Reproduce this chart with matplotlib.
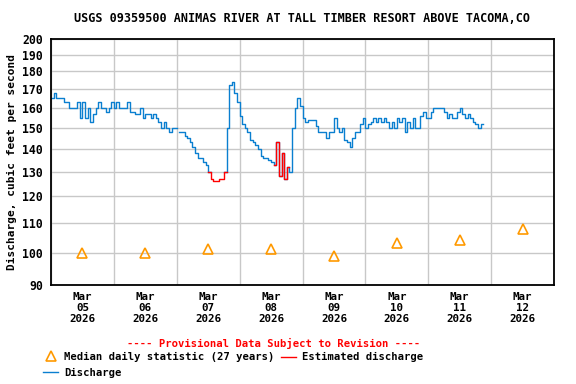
import numpy as np
import pandas as pd
import matplotlib
matplotlib.use('Agg')
import matplotlib.pyplot as plt
import matplotlib.dates as mdates
from matplotlib.lines import Line2D
from matplotlib.ticker import FixedLocator, FixedFormatter, NullLocator, NullFormatter

# ---- data (hourly readings, cfs) ----
START = '2026-03-05 00:00'
mar05 = [165, 168, 165, 165, 165, 163, 163, 160, 160, 160, 163, 155,
         163, 155, 160, 153, 157, 160, 163, 160, 160, 158, 160, 163]
mar06 = [160, 163, 160, 160, 160, 163, 158, 158, 157, 157, 160, 155,
         157, 157, 155, 157, 155, 153, 150, 153, 150, 148, 150, 150]
mar07 = [np.nan, 148, 148, 146, 145, 143, 141, 138, 136, 136, 134, 133,
         130, 127, 126, 126, 127, 127, 130, 150, 172, 174, 168, 163]
mar08 = [156, 152, 150, 148, 144, 143, 142, 140, 137, 136, 136, 135,
         134, 133, 143, 128, 138, 127, 132, 130, 150, 160, 165, 161]
mar09 = [155, 153, 154, 154, 154, 151, 148, 148, 148, 145, 148, 148,
         155, 150, 148, 150, 144, 143, 141, 145, 148, 148, 152, 155]
mar10 = [150, 152, 153, 155, 153, 155, 153, 155, 153, 150, 153, 150,
         155, 153, 155, 148, 153, 150, 155, 150, 150, 156, 158, 155]
mar11 = [155, 158, 160, 160, 160, 160, 158, 155, 157, 155, 155, 158,
         160, 157, 155, 157, 155, 153, 152, 150, 152, 152]
discharge = mar05 + mar06 + mar07 + mar08 + mar09 + mar10 + mar11

# hours (from START) flagged as estimated
estimated_hours = [60, 61, 62, 63, 64, 65, 85, 87, 89]

median_days = ['2026-03-05 12:00', '2026-03-06 12:00', '2026-03-07 12:00',
               '2026-03-08 12:00', '2026-03-09 12:00', '2026-03-10 12:00',
               '2026-03-11 12:00', '2026-03-12 12:00']
median_cfs = [100, 100, 101, 101, 99, 103, 104, 108]

y_ticks = [90, 100, 110, 120, 130, 140, 150, 160, 170, 180, 190, 200]

TITLE = 'USGS 09359500 ANIMAS RIVER AT TALL TIMBER RESORT ABOVE TACOMA,CO'
BLUE = '#0a7fd0'
RED = '#ff0000'
ORANGE = '#ff9900'
FONT = 'DejaVu Sans Mono'

# ---- split blue / red ----
t = pd.date_range(START, periods=len(discharge), freq='h')
q = np.array(discharge, dtype=float)
est = np.zeros(len(q), dtype=bool)
est[estimated_hours] = True
prev_est = np.r_[False, est[:-1]]
blue_q = np.where(~est | ~prev_est & est, q, np.nan)
red_q = np.where(est | prev_est, q, np.nan)

# ---- figure ----
fig = plt.figure(figsize=(5.76, 3.84), dpi=100)
ax = fig.add_axes([51 / 576, 1 - 285 / 384, 503 / 576, 246 / 384])

ax.plot(t, blue_q, color=BLUE, lw=1.0, drawstyle='steps-post')
ax.plot(t, red_q, color=RED, lw=1.0, drawstyle='steps-post')
ax.plot(pd.to_datetime(median_days), median_cfs, linestyle='none', marker='^',
        ms=7, mfc='none', mec=ORANGE, mew=1.2, clip_on=False)

ax.set_yscale('log')
ax.set_ylim(90, 200)
ax.yaxis.set_major_locator(FixedLocator(y_ticks))
ax.yaxis.set_major_formatter(FixedFormatter([str(v) for v in y_ticks]))
ax.yaxis.set_minor_locator(NullLocator())

ax.set_xlim(pd.Timestamp('2026-03-05'), pd.Timestamp('2026-03-13'))
ax.xaxis.set_major_locator(mdates.DayLocator())
ax.xaxis.set_major_formatter(NullFormatter())
ax.xaxis.set_minor_locator(mdates.HourLocator(byhour=12))
ax.xaxis.set_minor_formatter(mdates.DateFormatter('%b\n%d\n%Y'))

ax.grid(True, which='major', color='#c8c8c8', lw=1.0)
ax.set_axisbelow(True)
ax.tick_params(which='both', length=0)
ax.tick_params(axis='y', pad=6)
ax.tick_params(axis='x', which='minor', pad=5)
for lab in ax.get_yticklabels():
    lab.set_fontfamily(FONT)
    lab.set_fontweight('bold')
    lab.set_fontsize(8.3)
for lab in ax.xaxis.get_minorticklabels():
    lab.set_fontfamily(FONT)
    lab.set_fontweight('bold')
    lab.set_fontsize(7.8)
    lab.set_linespacing(1.15)
for s in ax.spines.values():
    s.set_linewidth(1.3)
    s.set_color('black')

fig.text(302.5 / 576, 1 - 19 / 384, TITLE, ha='center', va='center',
         family=FONT, weight='bold', fontsize=8.5)
fig.text(12 / 576, 1 - 162 / 384, 'Discharge, cubic feet per second',
         rotation=90, ha='center', va='center', family=FONT, weight='bold',
         fontsize=8.0)

# ---- legend block ----
fig.text(273.5 / 576, 1 - 343 / 384,
         '---- Provisional Data Subject to Revision ----',
         ha='center', va='center', color=RED, family=FONT, weight='bold',
         fontsize=7.6)
fig.add_artist(Line2D([51 / 576], [1 - 356 / 384], transform=fig.transFigure,
                      marker='^', ms=7, mfc='none', mec=ORANGE, mew=1.2,
                      linestyle='none'))
fig.text(64 / 576, 1 - 357 / 384, 'Median daily statistic (27 years)',
         ha='left', va='center', family=FONT, weight='bold', fontsize=7.6)
fig.add_artist(Line2D([281 / 576, 296 / 576], [1 - 357 / 384] * 2,
                      transform=fig.transFigure, color=RED, lw=1.0))
fig.text(302 / 576, 1 - 357 / 384, 'Estimated discharge',
         ha='left', va='center', family=FONT, weight='bold', fontsize=7.6)
fig.add_artist(Line2D([43 / 576, 58 / 576], [1 - 372 / 384] * 2,
                      transform=fig.transFigure, color=BLUE, lw=1.0))
fig.text(64 / 576, 1 - 373 / 384, 'Discharge',
         ha='left', va='center', family=FONT, weight='bold', fontsize=7.6)

fig.savefig('out.png', dpi=100)
